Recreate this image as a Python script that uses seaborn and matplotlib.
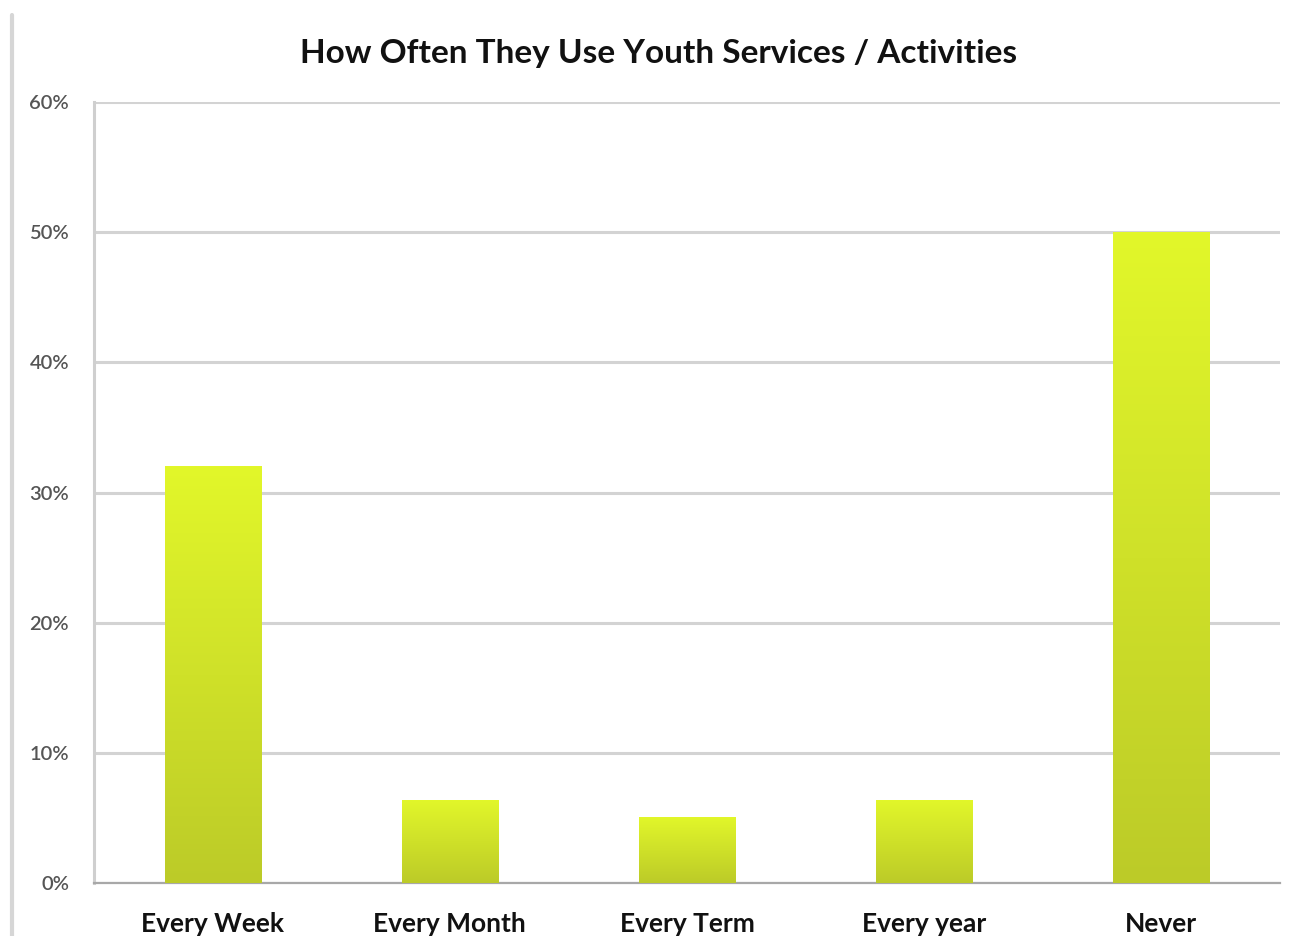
import numpy as np
import pandas as pd
import matplotlib
matplotlib.use("Agg")
import matplotlib.pyplot as plt
import seaborn as sns
from matplotlib.colors import LinearSegmentedColormap
from matplotlib.ticker import FuncFormatter

categories = ["Every Week", "Every Month", "Every Term", "Every year", "Never"]
shares = [32.0, 6.4, 5.1, 6.4, 50.0]
y_ticks = [0, 10, 20, 30, 40, 50, 60]

df = pd.DataFrame({"freq": categories, "share": shares})

sns.set_theme(style="white")
plt.rcParams["font.family"] = ["Lato", "DejaVu Sans"]

fig = plt.figure(figsize=(12.95, 9.36), dpi=100)
ax = fig.add_axes([94 / 1295, 1 - 883 / 936, (1280 - 94) / 1295, (883 - 102) / 936])

sns.barplot(data=df, x="freq", y="share", ax=ax, color="#d4e82a", width=0.405,
            saturation=1, zorder=3)

# vertical gradient fill clipped to each bar
grad = LinearSegmentedColormap.from_list("lime", ["#bccb28", "#e2f72a"])
gradient = np.linspace(0, 1, 256).reshape(-1, 1)
for p in ax.patches:
    x0, y0 = p.get_x(), p.get_y()
    w, h = p.get_width(), p.get_height()
    im = ax.imshow(gradient, cmap=grad, aspect="auto", origin="lower",
                   extent=(x0, x0 + w, y0, y0 + h), zorder=4)
    im.set_clip_path(p)
    p.set_edgecolor("none")

ax.set_xlim(-0.5, len(categories) - 0.5)
ax.set_ylim(0, 60)
ax.set_yticks(y_ticks)
ax.yaxis.set_major_formatter(FuncFormatter(lambda v, _: f"{v:.0f}%"))
ax.grid(axis="y", color="#d3d3d3", linewidth=2.2, zorder=0)
ax.set_axisbelow(True)

for s in ["top", "right"]:
    ax.spines[s].set_visible(False)
ax.spines["left"].set_color("#cfcfcf")
ax.spines["left"].set_linewidth(2.2)
ax.spines["bottom"].set_color("#a8a8a8")
ax.spines["bottom"].set_linewidth(1.6)

ax.set_xlabel("")
ax.set_ylabel("")
ax.tick_params(axis="y", length=0, pad=18, labelsize=14.5, labelcolor="#555555")
ax.tick_params(axis="x", length=0, pad=21, labelsize=19, labelcolor="#111111")
for t in ax.get_xticklabels():
    t.set_fontweight("bold")
for t in ax.get_yticklabels():
    t.set_fontweight("semibold")

fig.text(659 / 1295, 1 - 53 / 936, "How Often They Use Youth Services / Activities",
         ha="center", va="center", fontsize=24, fontweight="bold", color="#111111")

# thin frame line along the left edge
fig.add_artist(plt.Line2D([12 / 1295, 12 / 1295], [0, 1 - 15 / 936],
                          transform=fig.transFigure, color="#d6d6d6", linewidth=3))

fig.savefig("out.png", dpi=100)
